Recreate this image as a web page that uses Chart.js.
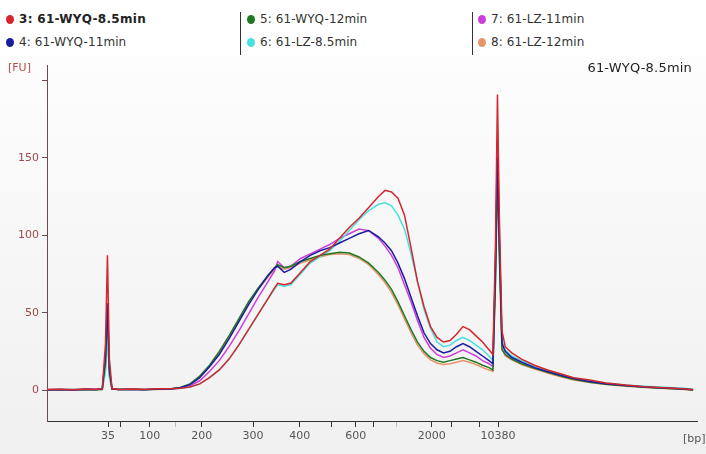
<!DOCTYPE html>
<html>
<head>
<meta charset="utf-8">
<script src="https://cdn.jsdelivr.net/npm/chart.js@4"></script>
<style>
  html, body { margin:0; padding:0; }
  body { width:706px; height:454px; position:relative; overflow:hidden;
         background: linear-gradient(#ffffff 0px, #fbfbfb 120px, #f0f0f0 454px);
         font-family: "DejaVu Sans", sans-serif; }
  #legend { position:absolute; left:0; top:0; width:706px; height:55px; background:#ffffff; }
  .item { position:absolute; font-size:12px; letter-spacing:0.1px; color:#333; white-space:nowrap; line-height:14px; }
  .dot { display:inline-block; width:8px; height:9px; border-radius:50%; margin-right:5px; vertical-align:-1px; }
  .sep { position:absolute; top:12px; width:1px; height:43px; background:#333; }
  canvas { position:absolute; left:0; top:0; }
  .lbl { position:absolute; white-space:nowrap; }
</style>
</head>
<body>
<div id="legend"></div>
<canvas id="c" width="706" height="454"></canvas>
<div class="lbl" style="left:8px; top:61px; font-size:11px; color:#b84a4a;">[FU]</div>
<div class="lbl" style="right:14px; top:60px; font-size:13px; letter-spacing:0.2px; color:#222;">61-WYQ-8.5min</div>
<div class="lbl" style="left:683px; top:432px; font-size:11px; color:#555;">[bp]</div>
<script>
// ---- data (x = migration position, arbitrary time units) ----
const xPos = [20,22,24,26,27.5,28.5,29,29.3,29.6,30,31,33,35,37,39,40.5,42,43.5,45,46.5,48,49.5,51,52.5,54,55,55.5,56.5,57.5,59,60.5,62,63.5,65,66.5,68,69.5,71,72,73,74,75,76,77,78,79,80,81,82,83,84,85,86,87,88,88.6,89,89.3,89.6,90,90.5,91.5,93,95,97,99,101,103.5,106,109,112,115,118,119.4];

const s3 = [0.3,0.5,0.2,0.6,0.4,0.8,30,87,20,1.0,0.4,0.6,0.3,0.8,0.9,1.2,2,4,8,13,20,29,39,49,59,66,69,68,69,76,83,87,91,98,105,111,118,125,129,128,124,113,92,70,54,41,34,31,32,36,41,39,35,31,26,23,95,191,110,38,28,24,20,16,13,10.5,8,6.5,4.5,3.2,2.2,1.5,0.8,0.2];
const s4 = [0.2,0.4,0.1,0.5,0.3,0.6,22,56,14,0.8,0.3,0.5,0.2,0.6,0.7,1.5,3.5,8,15,23,33,44,55,65,74,79,80,76,78,83,87,90,92,95,98,101,103,99,95,90,82,72,60,48,37,30,26,24,25,28,30,28,25,22,19,17,80,150,95,30,25,21,18,14.5,12,9.5,7.5,5.5,4,3,2,1.3,0.7,0.2];
const s5 = [0.1,0.3,0.2,0.4,0.2,0.5,18,50,12,0.7,0.4,0.3,0.4,0.5,0.8,1.6,4,9,16,25,35,46,57,66,74,79,81,79,80,83,85,87,88,89,88.5,86,82,76,71,65,57,48,39,31,25,21,19,18,19,20,21,19.5,18,16,14.5,13,70,140,85,26,23,20,17,14,11.5,9,7,5,3.8,2.8,1.8,1.1,0.5,0.1];
const s6 = [0.2,0.3,0.3,0.4,0.2,0.4,12,35,8,0.6,0.3,0.4,0.2,0.5,0.6,1.1,2,4,8,13,20,29,39,49,59,65,68,67,68,75,82,86,90,96,103,110,116,120,121,119,113,104,88,70,52,40,31,28,29,32,34,32,29,26,22,19,70,145,90,32,26,22,19,15.5,12.5,10,8,6,4.5,3.3,2.5,1.8,1.2,0.5];
const s7 = [0.3,0.2,0.4,0.3,0.5,0.5,16,45,10,0.7,0.5,0.3,0.4,0.6,0.7,1.2,2.8,6,12,19,28,38,49,60,70,77,83,79,80,85,88,91,94,98,101,104,103,98,93,87,79,68,57,45,34,27,23,21,22,24,26,24,22,19,17,15,85,163,100,30,25,21.5,18.5,15,12,10,7.5,5.5,4,3,2,1.4,0.8,0.3];
const s8 = [0.2,0.2,0.3,0.2,0.4,0.4,14,40,9,0.6,0.3,0.4,0.3,0.4,0.6,1.4,3.8,8.5,15.5,24,34,45,56,65,73,78,80,78,79,82,84,86,87.5,88,87.5,85,81,74.5,69.5,63,55,46,37,29,23.5,19.5,17.5,16.5,17,18,19,18,16.5,14.5,13,12,75,155,90,27,22,19.5,16.5,13.5,11,8.5,6.5,4.8,3.5,2.5,1.6,1,0.4,0];

const seriesNames  = ["3: 61-WYQ-8.5min","4: 61-WYQ-11min","5: 61-WYQ-12min","6: 61-LZ-8.5min","7: 61-LZ-11min","8: 61-LZ-12min"];
const seriesValues = [s3, s4, s5, s6, s7, s8];
const seriesColors = ["#d4262c","#1c1ca0","#1e7a22","#48e0de","#cc3fd6","#e8946a"];

const xTickPos    = [29.4,31.3,35.8,39.8,43.8,51.7,58.9,63.7,67.5,70.3,73.8,79.2,82.3,86.6,89.4];
const xTickLabels = ["35","","100","","200","300","400","","600","","","2000","","","10380"];
const xTickLight  = [false,false,false,true,false,false,false,false,false,false,true,false,false,false,false];
const yTicks      = [0,50,100,150,200];
const yTickLabels = ["0","50","100","150",""];

// ---- legend (HTML) ----
const legendLayout = [[6,12],[6,35],[247,12],[247,35],[478,12],[478,35]];
const lg = document.getElementById('legend');
seriesNames.forEach((n,i)=>{
  const d = document.createElement('div');
  d.className='item';
  d.style.left = legendLayout[i][0]+'px';
  d.style.top = legendLayout[i][1]+'px';
  if(i===0){ d.style.fontWeight='bold'; d.style.color='#222'; d.style.letterSpacing='0.3px'; }
  d.innerHTML = '<span class="dot" style="background:'+seriesColors[i]+'"></span>';
  d.appendChild(document.createTextNode(n));
  lg.appendChild(d);
});
[240,472].forEach(x=>{ const s=document.createElement('div'); s.className='sep'; s.style.left=x+'px'; lg.appendChild(s); });

// ---- chart ----
const datasets = seriesValues.map((vals,i)=>({
  label: seriesNames[i],
  data: xPos.map((x,j)=>({x:x, y:vals[j]})),
  borderColor: seriesColors[i],
  borderWidth: 1.5,
  pointRadius: 0,
  tension: 0,
  fill: false
}));

new Chart(document.getElementById('c'), {
  type: 'line',
  data: { datasets },
  options: {
    responsive: false,
    animation: false,
    layout: { padding: { left:0, top:65, right:9, bottom:0 } },
    plugins: { legend: { display:false }, tooltip: { enabled:false } },
    scales: {
      x: {
        type: 'linear', min: 20, max: 120,
        afterFit: s => { s.height = 33; },
        afterBuildTicks: s => { s.ticks = xTickPos.map(v=>({value:v})); },
        ticks: {
          autoSkip:false, maxRotation:0, padding:3,
          color:'#555', font:{ family:'DejaVu Sans', size:11 },
          callback: (v, idx) => xTickLabels[idx]
        },
        grid: { display:true, drawOnChartArea:false, drawTicks:true, tickLength:6,
                color: ctx => (ctx.index!==undefined && xTickLight[ctx.index]) ? '#bbbbbb' : '#333333' },
        border: { display:true, color:'#333', width:1 }
      },
      y: {
        min: -20, max: 210,
        afterFit: s => { s.width = 47; },
        afterBuildTicks: s => { s.ticks = yTicks.map(v=>({value:v})); },
        ticks: {
          autoSkip:false, padding:3,
          color:'#a04848', font:{ family:'DejaVu Sans', size:11 },
          callback: (v, idx) => yTickLabels[idx]
        },
        grid: { display:true, drawOnChartArea:false, drawTicks:true, tickLength:5, color:'#6b4b4b' },
        border: { display:true, color:'#6b4b4b', width:1 }
      }
    }
  }
});
</script>
</body>
</html>
